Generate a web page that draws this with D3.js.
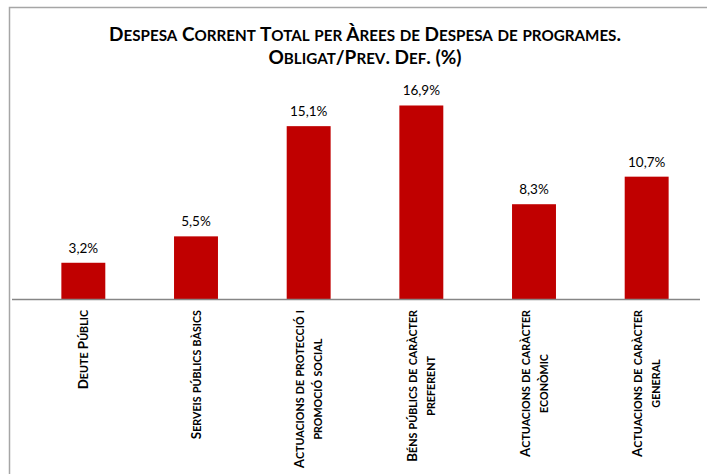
<!DOCTYPE html>
<html>
<head>
<meta charset="utf-8">
<script src="https://cdn.jsdelivr.net/npm/d3@7"></script>
<style>
  body { margin: 0; background: #fff; }
  text { font-family: Lato, "Open Sans", sans-serif; }
</style>
</head>
<body>
<div class="chart"></div>
<script>
// despesa corrent - obligat / prev. def.
var categories = [
  ["Deute Públic"],
  ["Serveis públics bàsics"],
  ["Actuacions de protecció i", "promoció social"],
  ["Béns públics de caràcter", "preferent"],
  ["Actuacions de caràcter", "econòmic"],
  ["Actuacions de caràcter", "general"]
];
var values = [3.2, 5.5, 15.1, 16.9, 8.3, 10.7];
var titleLines = ["Despesa Corrent Total per Àrees de Despesa de programes.", "Obligat/Prev. Def. (%)"];

WIDTH = 707
HEIGHT = 474
AXIS_Y = 299.5
LABEL_TOP = 310
SC = 0.8   // small caps ratio

var svg = d3.select(".chart").append("svg")
  .attr("width", WIDTH)
  .attr("height", HEIGHT);

// small caps by hand: lowercase runs go uppercase at a smaller size
function smallCaps(line, str, size) {
  var runs = str.match(/([^a-zà-ÿ]+|[a-zà-ÿ]+)/g);
  runs.forEach(function(r) {
    var low = r !== r.toUpperCase();
    line.append("tspan")
      .style("font-size", (low ? size * SC : size) + "px")
      .text(r.toUpperCase());
  });
}

// frame of the chart area
svg.append("path")
  .attr("d", "M9.5,480 V7.5 H720")
  .style("fill", "none")
  .style("stroke", "#a6a6a6")
  .style("stroke-width", "1.5px");

var x = d3.scaleBand()
  .domain(d3.range(categories.length))
  .range([27, 703])
  .paddingInner(0.61)
  .paddingOuter(0.305);

var y = d3.scaleLinear()
  .domain([0, 18])
  .range([AXIS_Y, AXIS_Y - 18 * 11.48]);

// title
titleLines.forEach(function(s, i) {
  var t = svg.append("text")
    .attr("text-anchor", "middle")
    .attr("x", 365)
    .attr("y", 41 + i * 23)
    .style("font-weight", "bold")
    .style("fill", "#000");
  smallCaps(t, s, 19);
});

// bars
svg.selectAll("rect.bar")
  .data(values)
  .join("rect")
  .attr("class", "bar")
  .attr("x", function(d, i) { return x(i); })
  .attr("y", function(d) { return y(d); })
  .attr("width", x.bandwidth())
  .attr("height", function(d) { return AXIS_Y - y(d); })
  .style("fill", "#c00000");

// value labels
svg.selectAll("text.val")
  .data(values)
  .join("text")
  .attr("class", "val")
  .attr("text-anchor", "middle")
  .attr("x", function(d, i) { return x(i) + x.bandwidth() / 2; })
  .attr("y", function(d) { return y(d) - 10; })
  .style("font-size", "13.5px")
  .style("fill", "#000")
  .text(function(d) { return d.toFixed(1).replace(".", ",") + "%"; });

// axis line
svg.append("line")
  .attr("x1", 12)
  .attr("x2", 700)
  .attr("y1", AXIS_Y)
  .attr("y2", AXIS_Y)
  .style("stroke", "#868686")
  .style("stroke-width", "1.5px");

// category labels, rotated
categories.forEach(function(lines, i) {
  var cx = x(i) + x.bandwidth() / 2;
  var g = svg.append("g");
  var maxLen = 0;
  lines.forEach(function(s, j) {
    var t = g.append("text")
      .attr("text-anchor", "middle")
      .attr("x", 0)
      .attr("y", j * 18)
      .style("font-weight", "bold")
      .style("fill", "#000");
    smallCaps(t, s, 13.4);
    maxLen = Math.max(maxLen, t.node().getComputedTextLength());
  });
  var dx = 4.5 - (lines.length - 1) * 9;
  g.attr("transform", "translate(" + (cx + dx) + "," + (LABEL_TOP + maxLen / 2) + ") rotate(-90)");
});
</script>
</body>
</html>
